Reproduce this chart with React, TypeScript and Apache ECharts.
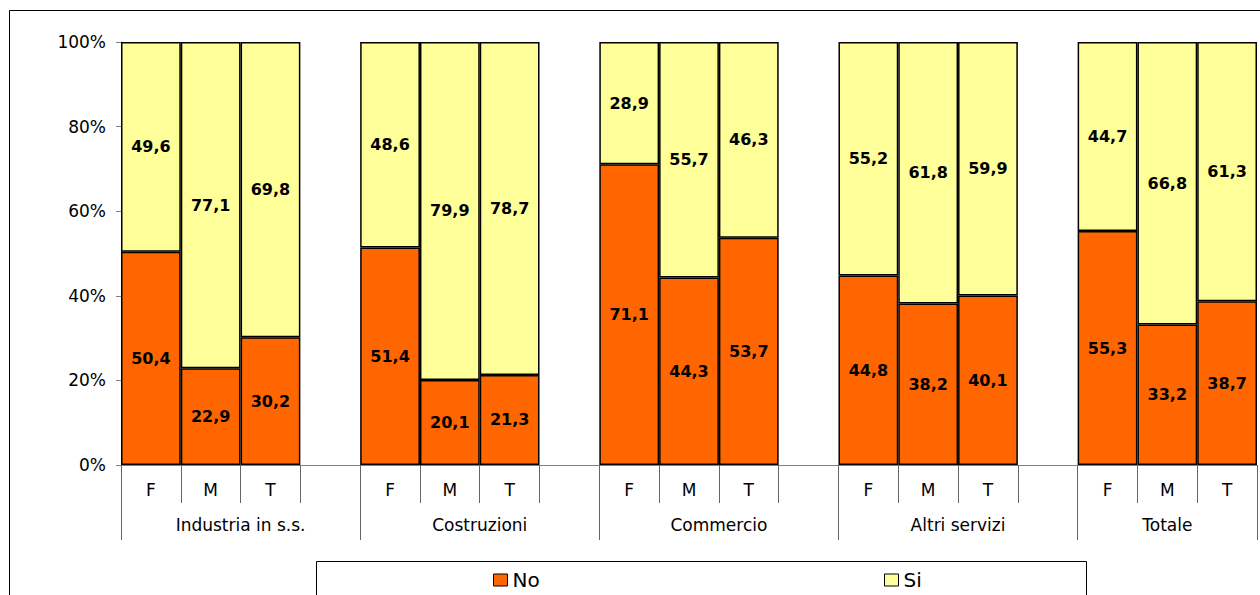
import React, { useEffect, useRef } from "react";
import * as echarts from "echarts";

// Sectors (second-level axis labels) and the F/M/T breakdown inside each
const sectors = ["Industria in s.s.", "Costruzioni", "Commercio", "Altri servizi", "Totale"];
const genders = ["F", "M", "T"];

// Share of "No" answers per sector, in F, M, T order
const noValues = [
  [50.4, 22.9, 30.2],
  [51.4, 20.1, 21.3],
  [71.1, 44.3, 53.7],
  [44.8, 38.2, 40.1],
  [55.3, 33.2, 38.7],
];
// Share of "Si" answers per sector, in F, M, T order
const siValues = [
  [49.6, 77.1, 69.8],
  [48.6, 79.9, 78.7],
  [28.9, 55.7, 46.3],
  [55.2, 61.8, 59.9],
  [44.7, 66.8, 61.3],
];

const yTicks = [0, 20, 40, 60, 80, 100];

const FONT = "DejaVu Sans";

// Flatten into slots: three bars per sector followed by an empty spacer slot
const categories: string[] = [];
const noSeries: (number | string)[] = [];
const siSeries: (number | string)[] = [];
sectors.forEach((_, s) => {
  genders.forEach((g, i) => {
    categories.push(g);
    noSeries.push(noValues[s][i]);
    siSeries.push(siValues[s][i]);
  });
  if (s < sectors.length - 1) {
    categories.push("");
    noSeries.push("-");
    siSeries.push("-");
  }
});

// Second-level axis in half-slot steps: group boundaries and label centres
const slotCount = categories.length;
const halfPoints = Array.from({ length: slotCount * 2 + 1 }, (_, i) => String(i));
const groupBounds: number[] = [];
const groupCentres: { [k: number]: string } = {};
{
  let start = 0;
  sectors.forEach((name, s) => {
    const width = s < sectors.length - 1 ? 4 : 3;
    groupBounds.push(start * 2);
    groupCentres[start * 2 + width] = name;
    start += width;
  });
  groupBounds.push(start * 2);
}

const fmt = (v: number) => v.toFixed(1).replace(".", ",");

export default function App() {
  const ref = useRef<HTMLDivElement>(null);

  useEffect(() => {
    if (!ref.current) return;
    const chart = echarts.init(ref.current, null, { renderer: "svg" });

    const labelStyle = {
      show: true,
      position: "inside" as const,
      formatter: (p: any) => fmt(p.value),
      color: "#000",
      fontFamily: FONT,
      fontWeight: "bold" as const,
      fontSize: 16,
    };

    const legendBase = {
      top: 565,
      itemWidth: 14,
      itemHeight: 12,
      icon: "rect",
      itemStyle: { borderColor: "#000", borderWidth: 1 },
      textStyle: { fontFamily: FONT, fontSize: 20, color: "#000", lineHeight: 20 },
    };

    chart.setOption({
      animation: false,
      backgroundColor: "#fff",
      textStyle: { fontFamily: FONT },
      grid: { left: 121, right: 3, top: 42, bottom: 130, containLabel: false },
      legend: [
        { ...legendBase, data: ["No"], left: 488 },
        { ...legendBase, data: ["Si"], left: 879 },
      ],
      xAxis: [
        {
          type: "category",
          data: categories,
          boundaryGap: true,
          axisLine: { show: true, lineStyle: { color: "#808080", width: 1 } },
          axisTick: { show: true, interval: 0, length: 38, lineStyle: { color: "#666", width: 1 } },
          axisLabel: { interval: 0, margin: 16, color: "#000", fontSize: 17, fontFamily: FONT },
        },
        {
          type: "category",
          data: halfPoints,
          boundaryGap: false,
          position: "bottom",
          axisLine: { show: false },
          axisTick: {
            show: true,
            length: 75,
            interval: (idx: number) => groupBounds.includes(idx),
            lineStyle: { color: "#666", width: 1 },
          },
          axisLabel: {
            interval: (idx: number) => groupCentres[idx] !== undefined,
            formatter: (_v: string, idx: number) => groupCentres[idx] ?? "",
            margin: 51,
            color: "#000",
            fontSize: 17,
            fontFamily: FONT,
          },
        },
      ],
      yAxis: {
        type: "value",
        min: yTicks[0],
        max: yTicks[yTicks.length - 1],
        interval: yTicks[1] - yTicks[0],
        axisLine: { show: true, lineStyle: { color: "#808080", width: 1 } },
        axisTick: { show: true, length: 5, lineStyle: { color: "#808080" } },
        splitLine: { show: false },
        axisLabel: { formatter: "{value}%", margin: 15, color: "#000", fontSize: 17, fontFamily: FONT },
      },
      series: [
        {
          name: "No",
          type: "bar",
          stack: "tot",
          barCategoryGap: 0,
          data: noSeries,
          itemStyle: { color: "#FF6600", borderColor: "#000", borderWidth: 1.5 },
          label: labelStyle,
        },
        {
          name: "Si",
          type: "bar",
          stack: "tot",
          barCategoryGap: 0,
          data: siSeries,
          itemStyle: { color: "#FFFF99", borderColor: "#000", borderWidth: 1.5 },
          label: labelStyle,
        },
      ],
      graphic: [
        {
          type: "rect",
          silent: true,
          shape: { x: 9.5, y: 10.5, width: 1400, height: 700 },
          style: { fill: "none", stroke: "#000", lineWidth: 1 },
        },
        {
          type: "rect",
          silent: true,
          shape: { x: 316.5, y: 561.5, width: 770, height: 100 },
          style: { fill: "none", stroke: "#000", lineWidth: 1 },
        },
      ],
    });

    return () => chart.dispose();
  }, []);

  return (
    <div
      ref={ref}
      style={{ position: "absolute", left: 0, top: 0, width: 1260, height: 595, background: "#fff" }}
    />
  );
}
